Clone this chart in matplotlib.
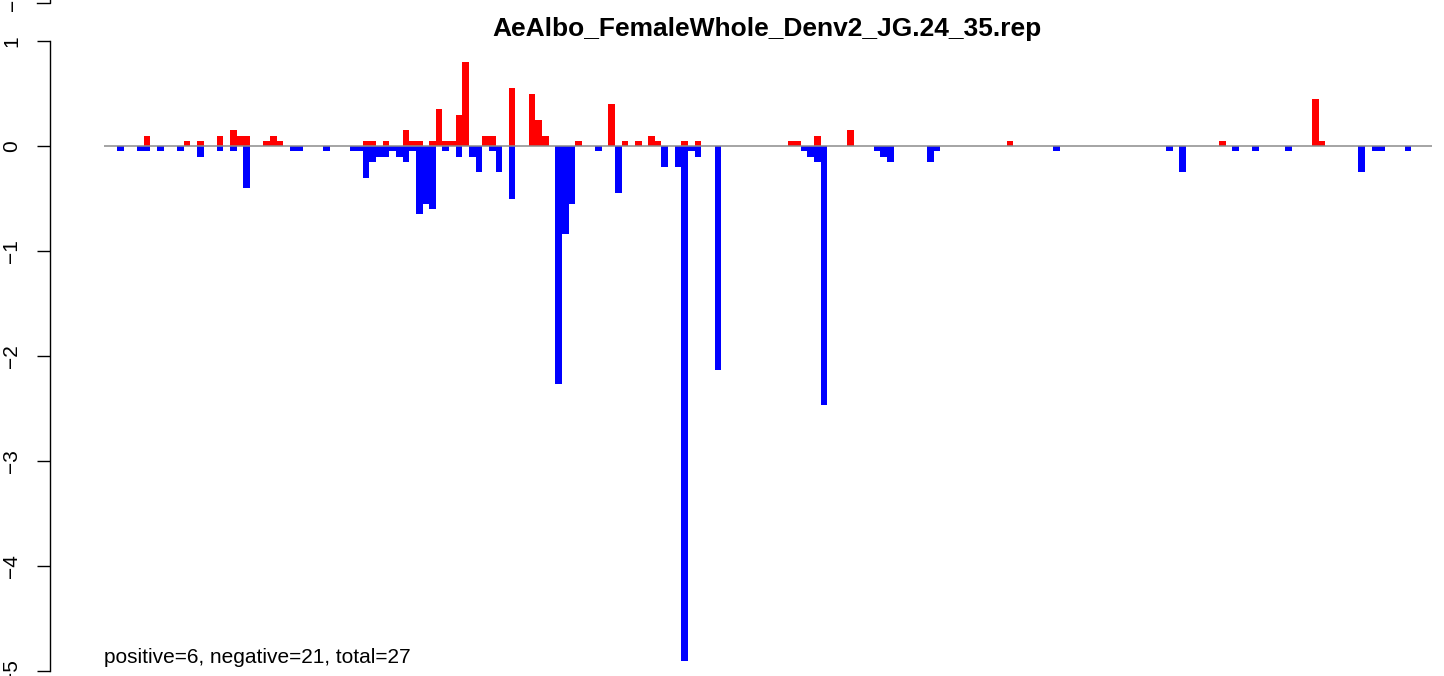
import matplotlib
matplotlib.use("Agg")
import matplotlib.pyplot as plt

plt.rcParams['font.family'] = ['Liberation Sans', 'DejaVu Sans']

title = "AeAlbo_FemaleWhole_Denv2_JG.24_35.rep"
summary = "positive=6, negative=21, total=27"

# positive values (red), by bar position
pos_idx = [4, 10, 12, 15, 17, 18, 19, 22, 23, 24, 37, 38, 40, 43, 44, 45, 47, 48,
           49, 50, 51, 52, 55, 56, 59, 62, 63, 64, 69, 74, 76, 78, 80, 81, 85, 87,
           101, 102, 105, 110, 134, 166, 180, 181]
pos_val = [0.1, 0.05, 0.05, 0.1, 0.15, 0.1, 0.1, 0.05, 0.1, 0.05, 0.05, 0.05, 0.05, 0.15, 0.05, 0.05, 0.05, 0.35,
           0.05, 0.05, 0.3, 0.8, 0.1, 0.1, 0.55, 0.5, 0.25, 0.1, 0.05, 0.4, 0.05, 0.05, 0.1, 0.05, 0.05, 0.05,
           0.05, 0.05, 0.1, 0.15, 0.05, 0.05, 0.45, 0.05]

# negative values (blue), by bar position
neg_idx = [0, 3, 4, 6, 9, 12, 15, 17, 19, 26, 27, 31, 35, 36, 37, 38, 39, 40, 41, 42,
           43, 44, 45, 46, 47, 49, 51, 53, 54, 56, 57, 59, 66, 67, 68, 72, 75, 82, 84,
           85, 86, 87, 90, 103, 104, 105, 106, 114, 115, 116, 122, 123, 141, 158, 160,
           168, 171, 176, 187, 189, 190, 194]
neg_val = [-0.05, -0.05, -0.05, -0.05, -0.05, -0.1, -0.05, -0.05, -0.4, -0.05, -0.05, -0.05, -0.05, -0.05,
           -0.3, -0.15, -0.1, -0.1, -0.05, -0.1,
           -0.15, -0.05, -0.65, -0.55, -0.6, -0.05, -0.1, -0.1, -0.25, -0.05, -0.25, -0.5, -2.27, -0.84, -0.55,
           -0.05, -0.45, -0.2, -0.2,
           -4.9, -0.05, -0.1, -2.13, -0.05, -0.1, -0.15, -2.47, -0.05, -0.1, -0.15, -0.15, -0.05, -0.05, -0.05,
           -0.25,
           -0.05, -0.05, -0.05, -0.25, -0.05, -0.05, -0.05]

yticks = [1, 0, -1, -2, -3, -4, -5]

W, H = 1444, 676
PT = 72 / 100  # points per pixel at dpi 100
fig = plt.figure(figsize=(W / 100, H / 100), dpi=100)
ax = fig.add_axes([104 / W, 5 / H, (1432 - 104) / W, (671 - 41) / H])

ax.bar(pos_idx, pos_val, width=1, align='edge', color='#ff0000', linewidth=0)
ax.bar(neg_idx, neg_val, width=1, align='edge', color='#0000ff', linewidth=0)
ax.axhline(0, color='#8c8c8c', lw=1.1, zorder=5)

ax.set_xlim(-2, 198.1)
ax.set_ylim(-5, 1)
for s in ['top', 'right', 'bottom']:
    ax.spines[s].set_visible(False)
ax.spines['left'].set_position(('outward', 54 * PT))
ax.spines['left'].set_linewidth(1.0)
ax.set_xticks([])
ax.set_yticks(yticks)
ax.set_yticklabels(['\u2212' + str(-v) if v < 0 else str(v) for v in yticks],
                   rotation=90, va='center', fontsize=15)
ax.tick_params(axis='y', length=13 * PT, width=1.0, pad=16 * PT)

fig.text(767 / W, 1 - 29 / H, title, ha='center', va='center',
         fontsize=19, fontweight='bold')
ax.text(-2, -4.87, summary, ha='left', va='center', fontsize=15)

# remnant of the axis from the panel above
fig.add_artist(plt.Line2D([37 / W, 50 / W, 50 / W], [1 - 3 / H, 1 - 3 / H, 1.0],
                          transform=fig.transFigure, color='black', lw=1.0))
fig.text(14 / W, 1 + 1 / H, '\u22125', rotation=90, ha='center', va='center', fontsize=15)

fig.savefig('out.png', dpi=100)
